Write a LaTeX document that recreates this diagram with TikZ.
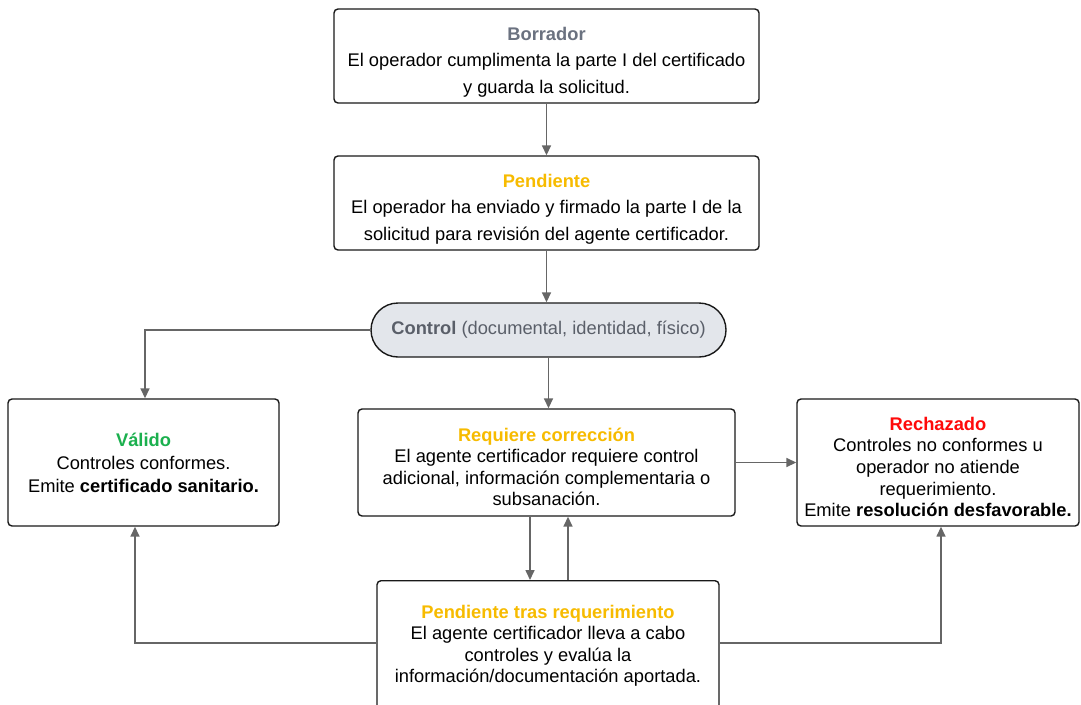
\documentclass[tikz,border=0pt]{standalone}
\usepackage{fontspec}
\setmainfont{Liberation Sans}
\usetikzlibrary{arrows.meta}
\definecolor{titlegrey}{HTML}{6B7280}
\definecolor{titleyellow}{HTML}{F7BB00}
\definecolor{titlegreen}{HTML}{1BB04E}
\definecolor{titlered}{HTML}{FF0A0A}
\definecolor{controlfill}{HTML}{E3E6EB}
\definecolor{controltext}{HTML}{5A5F69}
\definecolor{flowgrey}{HTML}{666666}
% raises the top of the first line so the text sits a bit lower in its box
\newcommand{\toppad}[1]{\rule{0pt}{#1}}

\begin{document}
\begin{tikzpicture}[x=1pt,y=-1pt,
    box/.style={draw=black!90, line width=1.4pt, rounded corners=4pt, fill=white,
      align=center, font=\fontsize{18.3}{21.6}\selectfont},
    flow/.style={draw=flowgrey, line width=1.6pt, -{Triangle[length=10pt,width=9pt]}}]
  \useasboundingbox (0,0) rectangle (1081,704);

  % states
  \node[box, minimum width=425pt, minimum height=94pt] (borrador) at (546.5,56)
    {\toppad{25pt}{\bfseries\color{titlegrey}Borrador}\\[5pt]
     El operador cumplimenta la parte I del certificado\\[5pt]
     y guarda la solicitud.};
  \node[box, minimum width=425pt, minimum height=94pt] (pendiente) at (546.5,203)
    {\toppad{25pt}{\bfseries\color{titleyellow}Pendiente}\\[5pt]
     El operador ha enviado y firmado la parte I de la\\[5pt]
     solicitud para revisión del agente certificador.};
  \node[box, minimum width=355pt, minimum height=54pt, rounded corners=27pt,
    fill=controlfill, text=controltext] (control) at (548.5,330)
    {{\bfseries Control} (documental, identidad, físico)};
  \node[box, minimum width=271pt, minimum height=127pt] (valido) at (143.5,462.5)
    {{\bfseries\color{titlegreen}Válido}\\[1.5pt]
     Controles conformes.\\[1.5pt]
     Emite \textbf{certificado sanitario.}};
  \node[box, minimum width=377pt, minimum height=107pt] (requiere) at (546.5,462.5)
    {\toppad{22pt}{\bfseries\color{titleyellow}Requiere corrección}\\
     El agente certificador requiere control\\
     adicional, información complementaria o\\
     subsanación.};
  \node[box, minimum width=282pt, minimum height=127pt] (rechazado) at (938,462.5)
    {\toppad{22pt}{\bfseries\color{titlered}Rechazado}\\
     Controles no conformes u\\
     operador no atiende\\
     requerimiento.\\
     Emite \textbf{resolución desfavorable.}};
  \node[box, minimum width=342pt, minimum height=130pt, anchor=north] (pendtras) at (548,580)
    {{\bfseries\color{titleyellow}Pendiente tras requerimiento}\\
     El agente certificador lleva a cabo\\
     controles y evalúa la\\
     información/documentación aportada.};

  % transitions
  \draw[flow] (borrador) -- (pendiente);
  \draw[flow] (pendiente) -- (pendiente |- control.north);
  \draw[flow] (control.west) -| ([xshift=1.5pt]valido.north);
  \draw[flow] (control) -- (control |- requiere.north);
  \draw[flow] (requiere) -- (rechazado);
  \draw[flow] ([xshift=-16.5pt]requiere.south) -- ([xshift=-16.5pt]requiere.south |- pendtras.north);
  \draw[flow] ([xshift=20pt]pendtras.north) -- ([xshift=20pt]pendtras.north |- requiere.south);
  \draw[flow] (pendtras.west |- 0,643) -| ([xshift=-8.5pt]valido.south);
  \draw[flow] (pendtras.east |- 0,643) -| ([xshift=3pt]rechazado.south);
\end{tikzpicture}
\end{document}
